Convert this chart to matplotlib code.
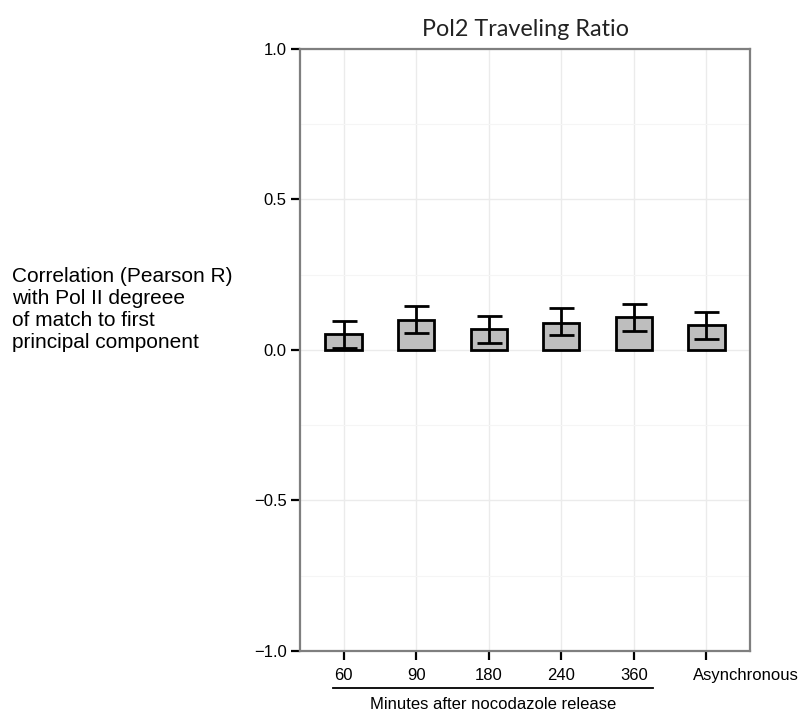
import matplotlib
matplotlib.use("Agg")
import matplotlib.pyplot as plt
import numpy as np
from matplotlib.transforms import blended_transform_factory

categories = ["60", "90", "180", "240", "360", "Asynchronous"]
values = [0.052, 0.100, 0.071, 0.091, 0.111, 0.082]
err_low = [0.007, 0.055, 0.023, 0.049, 0.063, 0.038]
err_high = [0.096, 0.145, 0.114, 0.140, 0.153, 0.125]
yticks = [-1.0, -0.5, 0.0, 0.5, 1.0]

plt.rcParams['font.family'] = ['Liberation Sans', 'DejaVu Sans']

fig = plt.figure(figsize=(8.02, 7.13), dpi=100)
ax = fig.add_axes([300/802, 1-651/713, 450/802, 602/713])

x = np.arange(len(categories))
vals = np.array(values)
lo = vals - np.array(err_low)
hi = np.array(err_high) - vals

ax.set_axisbelow(True)
ax.bar(x, vals, width=0.5, color='#bebebe', edgecolor='black', linewidth=2, zorder=2)
ax.errorbar(x, vals, yerr=[lo, hi], fmt='none', ecolor='black', elinewidth=2,
            capsize=9, capthick=2, zorder=3)

ax.set_xlim(-0.6, 5.6)
ax.set_ylim(-1.0, 1.0)
ax.set_yticks(yticks)
ax.set_yticklabels(["\u22121.0", "\u22120.5", "0.0", "0.5", "1.0"])
ax.set_yticks([-0.75, -0.25, 0.25, 0.75], minor=True)
ax.set_xticks(x)
ax.set_xticklabels(categories[:-1] + [""])

ax.grid(True, which='major', color='#ebebeb', linewidth=1.0)
ax.grid(True, which='minor', axis='y', color='#f5f5f5', linewidth=0.8)
ax.tick_params(which='minor', length=0)
ax.tick_params(which='major', length=6.5, width=1.6, color='black',
               labelsize=12)
ax.tick_params(axis='y', pad=3)
ax.tick_params(axis='x', pad=5.5)

for s in ax.spines.values():
    s.set_color('#7f7f7f')
    s.set_linewidth(1.6)

trans = blended_transform_factory(ax.transData, ax.transAxes)
ax.annotate(categories[-1], xy=(x[-1], 0), xycoords=trans,
            xytext=(-10, -12), textcoords='offset points',
            ha='left', va='top', fontsize=12, annotation_clip=False)

ax.plot([-0.15, 4.27], [-0.0615, -0.0615], transform=trans, color='black',
        linewidth=1.3, clip_on=False)
ax.text((-0.15 + 4.27) / 2, -0.077, "Minutes after nocodazole release",
        transform=trans, ha='center', va='top', fontsize=12)

ax.set_title("Pol2 Traveling Ratio", fontsize=16.8, family=['Lato', 'DejaVu Sans'],
             color='#222222', pad=9)

fig.text(12/802, 1-310/713,
         "Correlation (Pearson R)\nwith Pol II degreee\nof match to first\nprincipal component",
         ha='left', va='center', fontsize=15, linespacing=1.2)

fig.savefig("out.png", dpi=100)
